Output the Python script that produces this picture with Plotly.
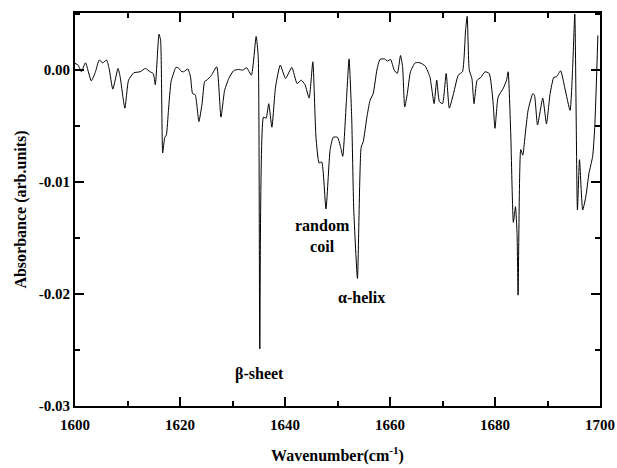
import plotly.graph_objects as go

wavenumber = [
    1600.0, 1600.6, 1601.2, 1602.0, 1603.1, 1603.9, 1604.6, 1605.3, 1606.0, 1606.5,
    1607.2, 1608.2, 1608.6, 1609.5, 1610.2, 1611.2, 1612.4, 1613.4, 1614.3, 1614.9,
    1615.3, 1616.0, 1616.3, 1616.7, 1617.1, 1617.4, 1617.8, 1618.3, 1618.7, 1619.2,
    1619.7, 1620.2, 1620.7, 1621.5, 1622.0, 1622.4, 1622.9, 1623.6, 1624.2, 1624.7,
    1625.1, 1626.0, 1627.0, 1627.8, 1628.5, 1629.3, 1630.2, 1631.1, 1631.9, 1632.7,
    1633.6, 1634.5, 1634.9, 1635.2, 1635.9, 1636.4, 1636.9, 1637.5, 1638.2, 1639.1,
    1640.1, 1641.3, 1642.3, 1643.1, 1643.8, 1644.6, 1645.3, 1645.9, 1646.5, 1647.0,
    1647.8, 1648.6, 1649.2, 1650.0, 1650.6, 1651.0, 1651.7, 1652.2, 1652.7, 1653.1,
    1653.8, 1654.5, 1654.9, 1655.6, 1656.2, 1656.8, 1657.5, 1658.1, 1659.0, 1659.5,
    1660.1, 1660.8, 1661.4, 1662.0, 1662.4, 1662.8, 1663.3, 1663.9, 1664.8, 1665.7,
    1666.7, 1667.6, 1668.4, 1668.9, 1669.4, 1670.0, 1670.7, 1671.3, 1672.1, 1673.0,
    1673.8, 1674.4, 1674.7, 1675.1, 1675.6, 1676.0, 1676.6, 1677.3, 1678.1, 1678.9,
    1679.6, 1680.0, 1680.6, 1681.6, 1682.2, 1682.5, 1683.0, 1683.5, 1683.9, 1684.2,
    1684.4, 1684.9, 1685.3, 1685.7, 1686.3, 1687.2, 1687.5, 1688.1, 1689.1, 1689.8,
    1690.5, 1691.2, 1691.7, 1692.5, 1693.3, 1694.3, 1694.8, 1695.2, 1695.7, 1696.1,
    1696.7, 1697.3, 1697.9, 1698.6, 1699.0, 1699.6,
]

absorbance = [
    0.0006, 0.00045, -0.00015, 0.00065, -0.00096, -0.00015, 0.0009, 0.00065, 0.0009, 0.00015,
    -0.0017, 0.00015, -0.0006, -0.0034, -0.0009, -0.00024, -0.00015, 0.00015, -0.00015, -0.0003,
    -0.0013, 0.0032, 0.0027, -0.0074, -0.0060, -0.0058, -0.0036, -0.0010, -0.0004, 0.00024,
    0.0002, -0.0001, -0.00015, 0.0001, -0.0006, -0.0021, -0.0022, -0.0046, -0.0030, -0.0010,
    -0.0009, -0.00045, 0.0003, -0.0042, -0.0018, -0.00074, -0.00006, 0.00006, 0.0, 0.0002,
    -0.00045, 0.0030, 0.0012, -0.0249, -0.0042, -0.0043, -0.0030, -0.0051, -0.0015, 0.00045,
    -0.00074, 0.00024, -0.0012, -0.0009, -0.0013, -0.0025, 0.00074, -0.0060, -0.0083, -0.0082,
    -0.0124, -0.0071, -0.0060, -0.0060, -0.0069, -0.0077, -0.0027, 0.0010, -0.0042, -0.0125,
    -0.0186, -0.0069, -0.0064, -0.0042, -0.0027, -0.0021, 0.0, 0.00096, 0.0010, 0.0008,
    0.00096, 0.0, -0.0003, 0.0013, 0.0003, -0.0033, -0.0021, -0.00015, 0.00065, 0.00065,
    0.00036, -0.0006, -0.0030, -0.0009, -0.0028, -0.0030, -0.0003, -0.0034, -0.0021, -0.00045,
    -0.00015, 0.0036, 0.0048, 0.0, -0.00074, -0.0030, -0.0009, -0.00065, -0.00015, -0.0003,
    -0.0027, -0.0052, -0.0024, -0.0016, -0.0009, -0.00015, -0.0057, -0.0136, -0.0122, -0.0146,
    -0.0201, -0.0071, -0.0076, -0.0060, -0.0036, -0.0021, -0.0022, -0.0049, -0.0025, -0.0048,
    -0.0021, -0.00065, -0.0006, -0.00006, -0.0016, -0.0036, 0.0003, 0.0050, -0.0125, -0.0080,
    -0.0125, -0.0113, -0.0092, -0.0077, -0.0051, 0.0031,
]

x_tickvals = [1600, 1620, 1640, 1660, 1680, 1700]
x_ticktext = ["1600", "1620", "1640", "1660", "1680", "1700"]
y_tickvals = [0.0, -0.01, -0.02, -0.03]
y_ticktext = ["0.00", "-0.01", "-0.02", "-0.03"]

labels = ["random<br>coil", "α-helix", "β-sheet"]
label_x = [1647.1, 1654.6, 1635.2]
label_y = [-0.0148, -0.0203, -0.0271]

FONT = "Liberation Serif"

fig = go.Figure()
fig.add_trace(go.Scatter(
    x=wavenumber, y=absorbance, mode="lines",
    line=dict(color="black", width=1, shape="spline", smoothing=0.5),
    showlegend=False, hoverinfo="skip",
))

for t, lx, ly in zip(labels, label_x, label_y):
    fig.add_annotation(x=lx, y=ly, text="<b>%s</b>" % t, showarrow=False,
                       font=dict(family=FONT, size=16, color="black"),
                       xanchor="center", yanchor="middle")

axis_common = dict(
    showline=True, linecolor="black", linewidth=2, mirror="allticks",
    ticks="inside", ticklen=9, tickwidth=1.5, tickcolor="black",
    showgrid=False, zeroline=False, automargin=False,
    tickfont=dict(family=FONT, size=15, color="black", weight="bold"),
)

fig.update_xaxes(
    range=[1600, 1700], tickmode="array", tickvals=x_tickvals, ticktext=x_ticktext,
    minor=dict(ticks="inside", ticklen=5, tickwidth=1.5, tickcolor="black", dtick=10, showgrid=False),
    ticklabelstandoff=4,
    title=dict(text="<b>Wavenumber(cm<sup>-1</sup>)</b>", font=dict(family=FONT, size=16, color="black"), standoff=18),
    **axis_common,
)
fig.update_yaxes(
    range=[-0.03, 0.0051], tickmode="array", tickvals=y_tickvals, ticktext=y_ticktext,
    minor=dict(ticks="inside", ticklen=5, tickwidth=1.5, tickcolor="black", dtick=0.005, showgrid=False),
    title=dict(text="<b>Absorbance (arb.units)</b>", font=dict(family=FONT, size=16, color="black"), standoff=8),
    **axis_common,
)

fig.update_layout(
    width=617, height=468,
    margin=dict(l=75, r=17, t=13, b=62),
    plot_bgcolor="white", paper_bgcolor="white",
)

fig.write_html("out.html")
